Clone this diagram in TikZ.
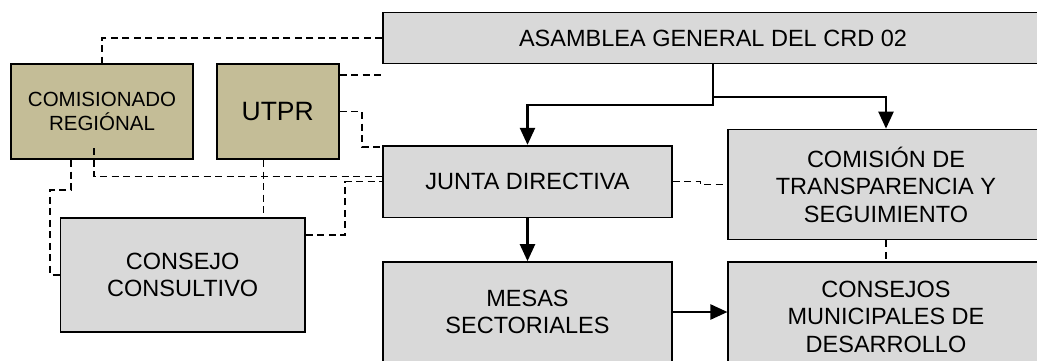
\documentclass[tikz,border=0pt]{standalone}
\usepackage{fontspec}
\setmainfont{Liberation Sans}
\usetikzlibrary{arrows.meta}

\definecolor{grisclaro}{HTML}{D9D9D9}
\definecolor{ocre}{HTML}{C4BD97}

\tikzset{
  caja/.style={draw, line width=1.7pt, fill=grisclaro, inner sep=0pt, align=center,
               font=\fontsize{23.5}{27.5}\selectfont},
  cajaocre/.style={caja, fill=ocre},
  dashlink/.style={line width=1.5pt, dash pattern=on 7pt off 4.5pt},
  flecha/.style={line width=2.3pt, -{Triangle[length=17pt,width=15pt]}},
}

\begin{document}
\begin{tikzpicture}[x=1pt, y=-1pt]
      \clip (0,0) rectangle (1037,360);
      % cajas
      \node[caja, minimum width=659.4pt, minimum height=51.2pt] (asamblea) at (713,38) {ASAMBLEA GENERAL DEL CRD 02};
      \node[cajaocre, minimum width=182pt, minimum height=95.6pt,
            font=\fontsize{20.5}{24}\selectfont] (comisionado) at (102,111.5) {COMISIONADO\\REGIÓNAL};
      \node[cajaocre, minimum width=122pt, minimum height=95.6pt,
            font=\fontsize{26.5}{30}\selectfont] (utpr) at (277.7,111.5) {UTPR};
      \node[caja, minimum width=288.4pt, minimum height=71.8pt] (junta) at (527.5,181.6) {JUNTA DIRECTIVA};
      \node[caja, minimum width=315.4pt, minimum height=110pt] (comision) at (886,184.5) {COMISIÓN DE\\TRANSPARENCIA Y\\SEGUIMIENTO};
      \node[caja, minimum width=244.7pt, minimum height=113.4pt] (consultivo) at (182.7,275) {CONSEJO\\CONSULTIVO};
      \node[caja, minimum width=288.4pt, minimum height=100pt] (mesas) at (527.5,312) {MESAS\\SECTORIALES};
      \node[caja, minimum width=315.4pt, minimum height=109pt] (municipales) at (886,316.5) {CONSEJOS\\MUNICIPALES DE\\DESARROLLO};

      % lineas punteadas
      \draw[dashlink] (asamblea.west) -| (comisionado.north);
      \draw[dashlink] ([yshift=-12pt]utpr.north east) -- ([yshift=-12pt]utpr.north east -| asamblea.west);
      \draw[dashlink] (utpr.east) -- ++(22.5,0) |- ([yshift=-2pt]junta.north west);
      \draw[dashlink] ([shift={(-8pt,12pt)}]comisionado.south) |- ([yshift=5pt]junta.west);
      \draw[dashlink] ([xshift=-14.4pt]utpr.south) -- ([xshift=-14.4pt]utpr.south |- consultivo.north);
      \draw[dashlink] ([yshift=-17.4pt]consultivo.north east) -- ++(39.3,0) |- (junta.west);
      \draw[dashlink] ([xshift=-31pt]comisionado.south) -- ++(0,29.7) -| ([xshift=-9.3pt]consultivo.west) -- (consultivo.west);
      \draw[dashlink] (junta.east) -- ++(28,0) |- (comision.west);
      \draw[dashlink] (comision.south) -- (municipales.north);
%      \draw[dashlink] (mesas.south) -- (municipales.south);

      % flechas
      \draw[flecha] (asamblea.south) -- ++(0,40.8) -| (junta.north);
      \draw[flecha] ([yshift=-32.2pt]asamblea.south) -| (comision.north);
      \draw[flecha] (junta.south) -- (mesas.north);
      \draw[flecha] (mesas.east) -- (mesas.east -| municipales.west);
  \end{tikzpicture}
\end{document}
